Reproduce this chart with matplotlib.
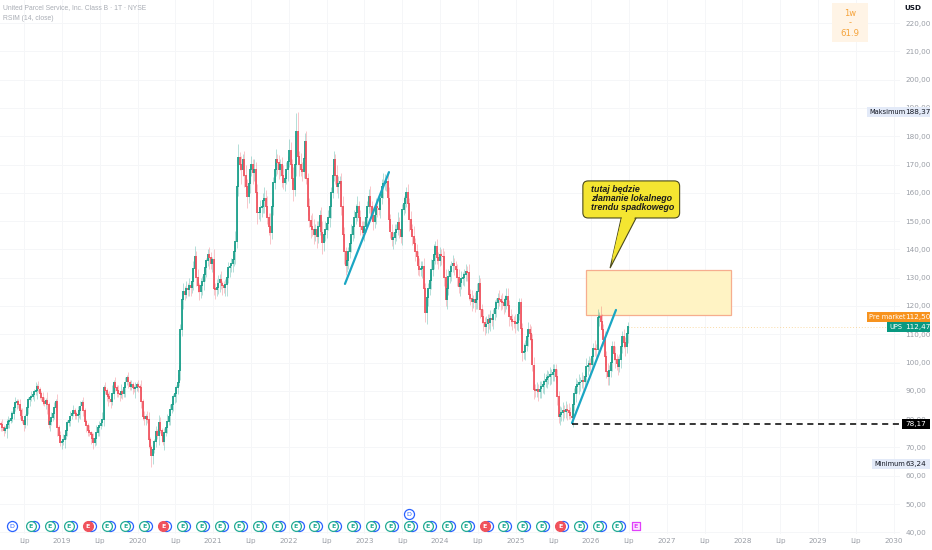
import numpy as np
import matplotlib
matplotlib.use("Agg")
import matplotlib.pyplot as plt
import matplotlib.transforms as mtransforms
from matplotlib.patches import Rectangle, FancyBboxPatch, Polygon

title = "United Parcel Service, Inc. Class B · 1T · NYSE"
indicator = "RSIM (14, close)"

first_week = 2018.19          # decimal year of first weekly candle
week = 7 / 365.25
first_open = 78.5

# weekly closes
closes = [
    78, 77, 76, 76.5, 78, 79, 79.5, 80, 82, 84,
    85.7, 86, 85, 83, 81, 79.5, 78, 81, 84, 86.8,
    87.5, 88, 88.5, 89.6, 90, 91.4, 90.5, 89, 87.5, 86,
    85.5, 86.5, 85, 78, 79, 80.5, 82, 84, 86, 77,
    74, 71.6, 72, 72.7, 74, 76, 78.6, 79.5, 81, 82,
    83, 82, 81, 81.5, 83, 84.5, 85.7, 83, 79, 77.5,
    76, 75, 74.4, 73, 71.6, 73, 75, 76.9, 77.5, 78.5,
    79.7, 91, 90, 88.5, 87.8, 87, 86, 89, 92.8, 91,
    90, 89, 88.5, 89.5, 89, 91, 93, 94.5, 93, 91.4,
    92, 91, 90.5, 91, 92, 91.5, 91, 86, 80.8, 80,
    81, 79.7, 72.7, 70, 67, 69, 72, 75.5, 74, 78.6,
    76, 74, 72, 75, 77, 79, 81, 83.3, 85, 87.8,
    89, 91, 92.8, 97, 111.5, 122, 125, 124, 126, 125.7,
    127, 126.5, 128.5, 133, 137.3, 130, 127, 125, 127, 128.5,
    131, 133.4, 136, 138, 137, 135, 136.3, 126, 125.5, 126.4,
    128, 129.2, 128, 127, 126.5, 127.4, 130, 133.4, 134, 135,
    136.3, 139, 142.6, 162, 172.3, 170, 168, 171.6, 166, 162,
    158.5, 163, 168, 170, 167, 168, 160, 152.9, 153, 154.6,
    155, 157, 158, 155, 151, 148, 145.8, 155, 163.5, 168,
    171.6, 170.5, 168, 169.8, 166, 163.5, 165, 168, 171, 175,
    170, 165, 161, 170, 181.5, 172.6, 170, 168, 167.3, 172,
    178, 165, 155, 150, 148, 146.9, 145, 147, 144.4, 148,
    152, 146, 142.3, 145, 147, 149, 151, 155, 160, 166,
    171.6, 166, 162, 163, 164, 155, 145, 139, 134, 136,
    139, 142, 145, 148, 151, 153, 155, 151, 148, 147,
    145.8, 148, 151, 155, 158.5, 155, 152, 149.7, 152, 155,
    154.5, 154, 158, 162, 163, 163.5, 164, 158, 150.4, 146,
    143.3, 144, 145.8, 147, 149.3, 147, 144.4, 154, 156, 158,
    160, 156, 150.4, 147, 144.4, 142, 139, 137.3, 134, 132.7,
    133, 133.8, 126, 117.5, 123, 126, 129, 132.7, 136, 138,
    140.8, 137, 136, 138, 137.5, 137.3, 130, 122, 126, 130.2,
    132, 134, 135, 134, 132.7, 130, 126.7, 128, 129.5, 130,
    131, 132, 131.7, 124, 122.5, 121.4, 122, 121, 122, 125,
    128, 118.6, 116, 114, 112.6, 113.5, 115, 114, 115.5, 115,
    117, 119, 121, 122.5, 122, 121.5, 121, 120, 122, 123.2,
    120, 116, 115, 114.5, 114.3, 113.5, 114, 117, 121, 112,
    103.4, 103.8, 106, 109, 111.5, 110, 108, 99, 90.3, 90,
    90.3, 89.5, 90.5, 91.4, 92, 93.2, 94, 94.5, 95, 95.5,
    95.6, 96.5, 97.4, 94.9, 88, 80.8, 81.5, 82.2, 83, 82.5,
    83.3, 82.8, 82.2, 81, 80.4, 85, 89, 91.4, 92, 92.8,
    93, 93.5, 93.2, 95, 98.5, 99, 99.5, 99.2, 102, 105,
    104.5, 104.4, 115.8, 116, 114.3, 111.5, 108, 102, 96.7, 95,
    97, 99.9, 105.5, 103, 101, 99.5, 98.5, 101, 105.5, 109,
    107, 105.5, 110, 112.47,
]

# wick lengths above / below the body, in dollars, one digit per week
wick_up = (
    "1211221312" "2112131121" "1211312112" "2131121213" "1212131121"
    "2113121211" "1211213121" "3121121312" "1213112121" "2112121312"
    "1231121213" "2112131211" "2132213232" "3223423132" "2312321423"
    "3231223212" "2342523234" "3423243323" "2343425323" "4232342324"
    "3242372432" "3423254232" "2342323423" "3243234323" "2342334232"
    "3232342323" "2323432342" "3232423232" "2323242323" "3232323424"
    "2323232323" "3232223232" "2323232323" "3223232232" "2322323223"
    "3232232322" "2323323232" "3232232323" "2322323232" "3232322323"
    "2322323232" "3232432323" "2322323232" "3232"
)
wick_dn = (
    "2121312112" "1213112132" "2112131211" "1231211213" "2121312121"
    "1212131212" "2131212131" "1212312121" "2121213121" "1213121212"
    "2132131213" "1213121312" "2321323212" "2323232323" "3232423232"
    "2323234232" "3242325242" "4232432423" "3243234232" "2432423242"
    "3242424232" "4232423242" "3243232342" "2324232432" "3232423232"
    "2323232323" "3232423232" "2323232323" "3242323232" "2323432323"
    "3232323232" "2323232322" "3232232323" "2323323232" "3232232323"
    "2323232322" "3232323232" "2323232323" "3232323232" "2321232323"
    "3232232323" "2323232323" "3232323232" "2323"
)

max_week, max_high = 204, 188.37
min_week, min_low = 104, 63.24
support_week, support_level = 394, 78.17
last_price = 112.47
premarket_price = 112.50

y_ticks = list(range(40, 230, 10))
x_ticks = [2018.5, 2019, 2019.5, 2020, 2020.5, 2021, 2021.5, 2022, 2022.5,
           2023, 2023.5, 2024, 2024.5, 2025, 2025.5, 2026, 2026.5, 2027,
           2027.5, 2028, 2028.5, 2029, 2029.5, 2030]
x_labels = ["Lip", "2019", "Lip", "2020", "Lip", "2021", "Lip", "2022", "Lip",
            "2023", "Lip", "2024", "Lip", "2025", "Lip", "2026", "Lip", "2027",
            "Lip", "2028", "Lip", "2029", "Lip", "2030"]

earn_dates = [2018.59, 2018.84, 2019.09, 2019.34, 2019.59, 2019.84, 2020.09,
              2020.34, 2020.59, 2020.84, 2021.09, 2021.34, 2021.59, 2021.84,
              2022.09, 2022.34, 2022.59, 2022.84, 2023.09, 2023.34, 2023.59,
              2023.84, 2024.09, 2024.34, 2024.59, 2024.84, 2025.09, 2025.34,
              2025.59, 2025.84, 2026.09, 2026.34, 2026.59]
earn_kind = "gggrgggr" "gggggggggggggggg" "rgggrgggf"
div_only_dates = [2018.34]
div_top_dates = [2023.59]

zone = (2025.93, 2027.85, 116.8, 132.6)        # yellow box
trend1 = ([2022.743, 2023.325], [127.8, 167.3])
trend2 = ([2025.746, 2026.328], [78.66, 118.6])
note = "tutaj będzie\nzłamanie lokalnego\ntrendu spadkowego"

up_col = "#139c87"
dn_col = "#ef4f5b"

# ---------------------------------------------------------------
n = len(closes)
t = first_week + week * np.arange(n)
c = np.array(closes, float)
o = np.concatenate([[first_open], c[:-1]])
wu = np.array([int(d) for d in wick_up[:n]], float)
wd = np.array([int(d) for d in wick_dn[:n]], float)
h = np.maximum(o, c) + wu
l = np.minimum(o, c) - wd
h[max_week] = max_high
l[min_week] = min_low
l[support_week] = support_level
rising = c >= o
cols = np.where(rising, up_col, dn_col)

W, H = 932, 550
fig = plt.figure(figsize=(W / 100, H / 100), dpi=100)
ax = fig.add_axes([0, 16 / H, 900 / W, 534 / H])
ax.set_xlim(2018.180, 2030.085)
ax.set_ylim(39.43, 228.13)
for s in ax.spines.values():
    s.set_visible(False)
ax.grid(True, color="#f5f6f8", lw=0.7, zorder=0)
ax.set_axisbelow(True)

ax.yaxis.tick_right()
ax.set_yticks(y_ticks)
ax.set_yticklabels([f"{v:.2f}".replace(".", ",") for v in y_ticks])
ax.set_xticks(x_ticks)
ax.set_xticklabels(x_labels)
ax.tick_params(axis="y", length=0, pad=4, labelsize=5.2, labelcolor="#9a9ea6")
ax.tick_params(axis="x", length=0, pad=3, labelsize=5.2, labelcolor="#9a9ea6")

# candles
ax.vlines(t, l, h, colors=cols, lw=0.5, alpha=0.45, zorder=3)
ax.vlines(t, np.minimum(o, c), np.maximum(o, c) + 0.3, colors=cols, lw=1.25, zorder=4)

# drawings
x0, x1, y0, y1 = zone
ax.add_patch(Rectangle((x0, y0), x1 - x0, y1 - y0, fc="#fff3c4", ec="#f6ad8e",
                       lw=0.9, zorder=2))
ax.plot(*trend1, color="#1aa6c3", lw=1.6, zorder=5, solid_capstyle="round")
ax.plot(*trend2, color="#1aa6c3", lw=1.6, zorder=5, solid_capstyle="round")
ax.plot([2025.75, 2030.085], [support_level, support_level], color="black",
        lw=1.1, ls=(0, (4, 3)), zorder=5)
ax.plot([t[-1], 2030.085], [premarket_price, premarket_price], color="#f6c26b",
        lw=0.7, ls=(0, (1, 2)), alpha=0.6, zorder=2)

# callout
bx0, bx1, by0, by1 = 2025.89, 2027.17, 151.1, 164.2
tail = [(2026.40, by0 + 0.3), (2026.25, 133.4), (2026.60, by0 + 0.3)]
ax.add_patch(Polygon(tail, closed=True, fc="#f4e531", ec="#4b4a1c", lw=0.8, zorder=6))
ax.add_patch(FancyBboxPatch((bx0, by0), bx1 - bx0, by1 - by0,
                            boxstyle="round,pad=0,rounding_size=0.07",
                            mutation_aspect=26.7, fc="#f4e531", ec="#4b4a1c",
                            lw=0.8, zorder=6))
ax.add_patch(Polygon([(2026.41, by0 + 0.6), (2026.27, 136.0), (2026.585, by0 + 0.6)],
                     closed=True, fc="#f4e531", ec="none", zorder=7))
ax.text(2026.0, 162.7, note, fontsize=6.4, style="italic", weight="bold",
        family="Liberation Sans", color="#1c1c1c", va="top", ha="left",
        linespacing=1.0, zorder=8)

# events along the bottom
bt = mtransforms.blended_transform_factory(ax.transData, ax.transAxes)
ring_dx = 3 / 75.6
ey = 8 / 534
for d, k in zip(earn_dates, earn_kind):
    if k != "f":
        ax.scatter([d + ring_dx], [ey], s=52, marker="o", fc="white", ec="#2962ff",
                   lw=0.9, transform=bt, zorder=8, clip_on=False)
    if k == "g":
        fc, ec, tc, m = "white", "#22ab94", "#22ab94", "o"
    elif k == "r":
        fc, ec, tc, m = "#f0525c", "#f0525c", "white", "o"
    else:
        fc, ec, tc, m = "#fbe7fd", "#e040fb", "#e040fb", "s"
    ax.scatter([d], [ey], s=50 if m == "o" else 40, marker=m, fc=fc, ec=ec, lw=0.9,
               transform=bt, zorder=9, clip_on=False)
    ax.text(d, ey, "E", fontsize=4.5, color=tc, ha="center", va="center",
            weight="bold", transform=bt, zorder=10)
for d in div_only_dates:
    ax.scatter([d], [ey], s=52, marker="o", fc="white", ec="#2962ff", lw=0.9,
               transform=bt, zorder=9, clip_on=False)
    ax.text(d, ey, "D", fontsize=4.5, color="#2962ff", ha="center", va="center",
            transform=bt, zorder=10)
for d in div_top_dates:
    ax.scatter([d], [ey + 12 / 534], s=52, marker="o", fc="white", ec="#2962ff",
               lw=0.9, transform=bt, zorder=9, clip_on=False)
    ax.text(d, ey + 12 / 534, "D", fontsize=4.5, color="#2962ff", ha="center",
            va="center", transform=bt, zorder=10)

# header and price tags (pixel positions)
ident = mtransforms.IdentityTransform()
fig.canvas.draw()


def py(price):
    return ax.transData.transform((2020, price))[1]


def tag(yc, x_left, bg, fg, label, value, x_label=None):
    fig.add_artist(Rectangle((x_left, yc - 5), 930 - x_left, 10, fc=bg, ec="none",
                             transform=ident, zorder=20))
    if label:
        fig.text(x_label if x_label else x_left + 2, yc, label, fontsize=4.8, color=fg,
                 va="center", ha="left", transform=ident, zorder=21)
    fig.text(905, yc, value, fontsize=5.2, color=fg, va="center", ha="left",
             transform=ident, zorder=21)


tag(py(max_high) + 1, 867, "#e3eaf8", "#131722", "Maksimum", "188,37")
tag(py(premarket_price) + 10, 867, "#f7931e", "white", "Pre market", "112,50")
tag(py(last_price), 887, "#089981", "white", "UPS", "112,47", 889)
tag(py(support_level), 902, "black", "white", None, "78,17")
tag(py(min_low) + 2.5, 872, "#e3eaf8", "#131722", "Minimum", "63,24", 874)

fig.text(3, H - 8, title, fontsize=4.9, color="#a9adb5", va="center", ha="left",
         family="Liberation Sans", transform=ident)
fig.text(3, H - 18, indicator, fontsize=4.9, color="#a9adb5", va="center", ha="left",
         family="Liberation Sans", transform=ident)
fig.text(913, H - 8, "USD", fontsize=5.2, color="#131722", weight="bold",
         va="center", ha="center", transform=ident)
fig.add_artist(Rectangle((832, H - 42), 36, 39, fc="#fff4e6", ec="none",
                         transform=ident))
fig.text(850, H - 13, "1w", fontsize=6, color="#f5a33b", ha="center", va="center",
         transform=ident)
fig.text(850, H - 23, "-", fontsize=6, color="#f5a33b", ha="center", va="center",
         transform=ident)
fig.text(850, H - 34, "61.9", fontsize=6.2, color="#f5a33b", ha="center",
         va="center", transform=ident)

fig.savefig("out.png", dpi=100)
